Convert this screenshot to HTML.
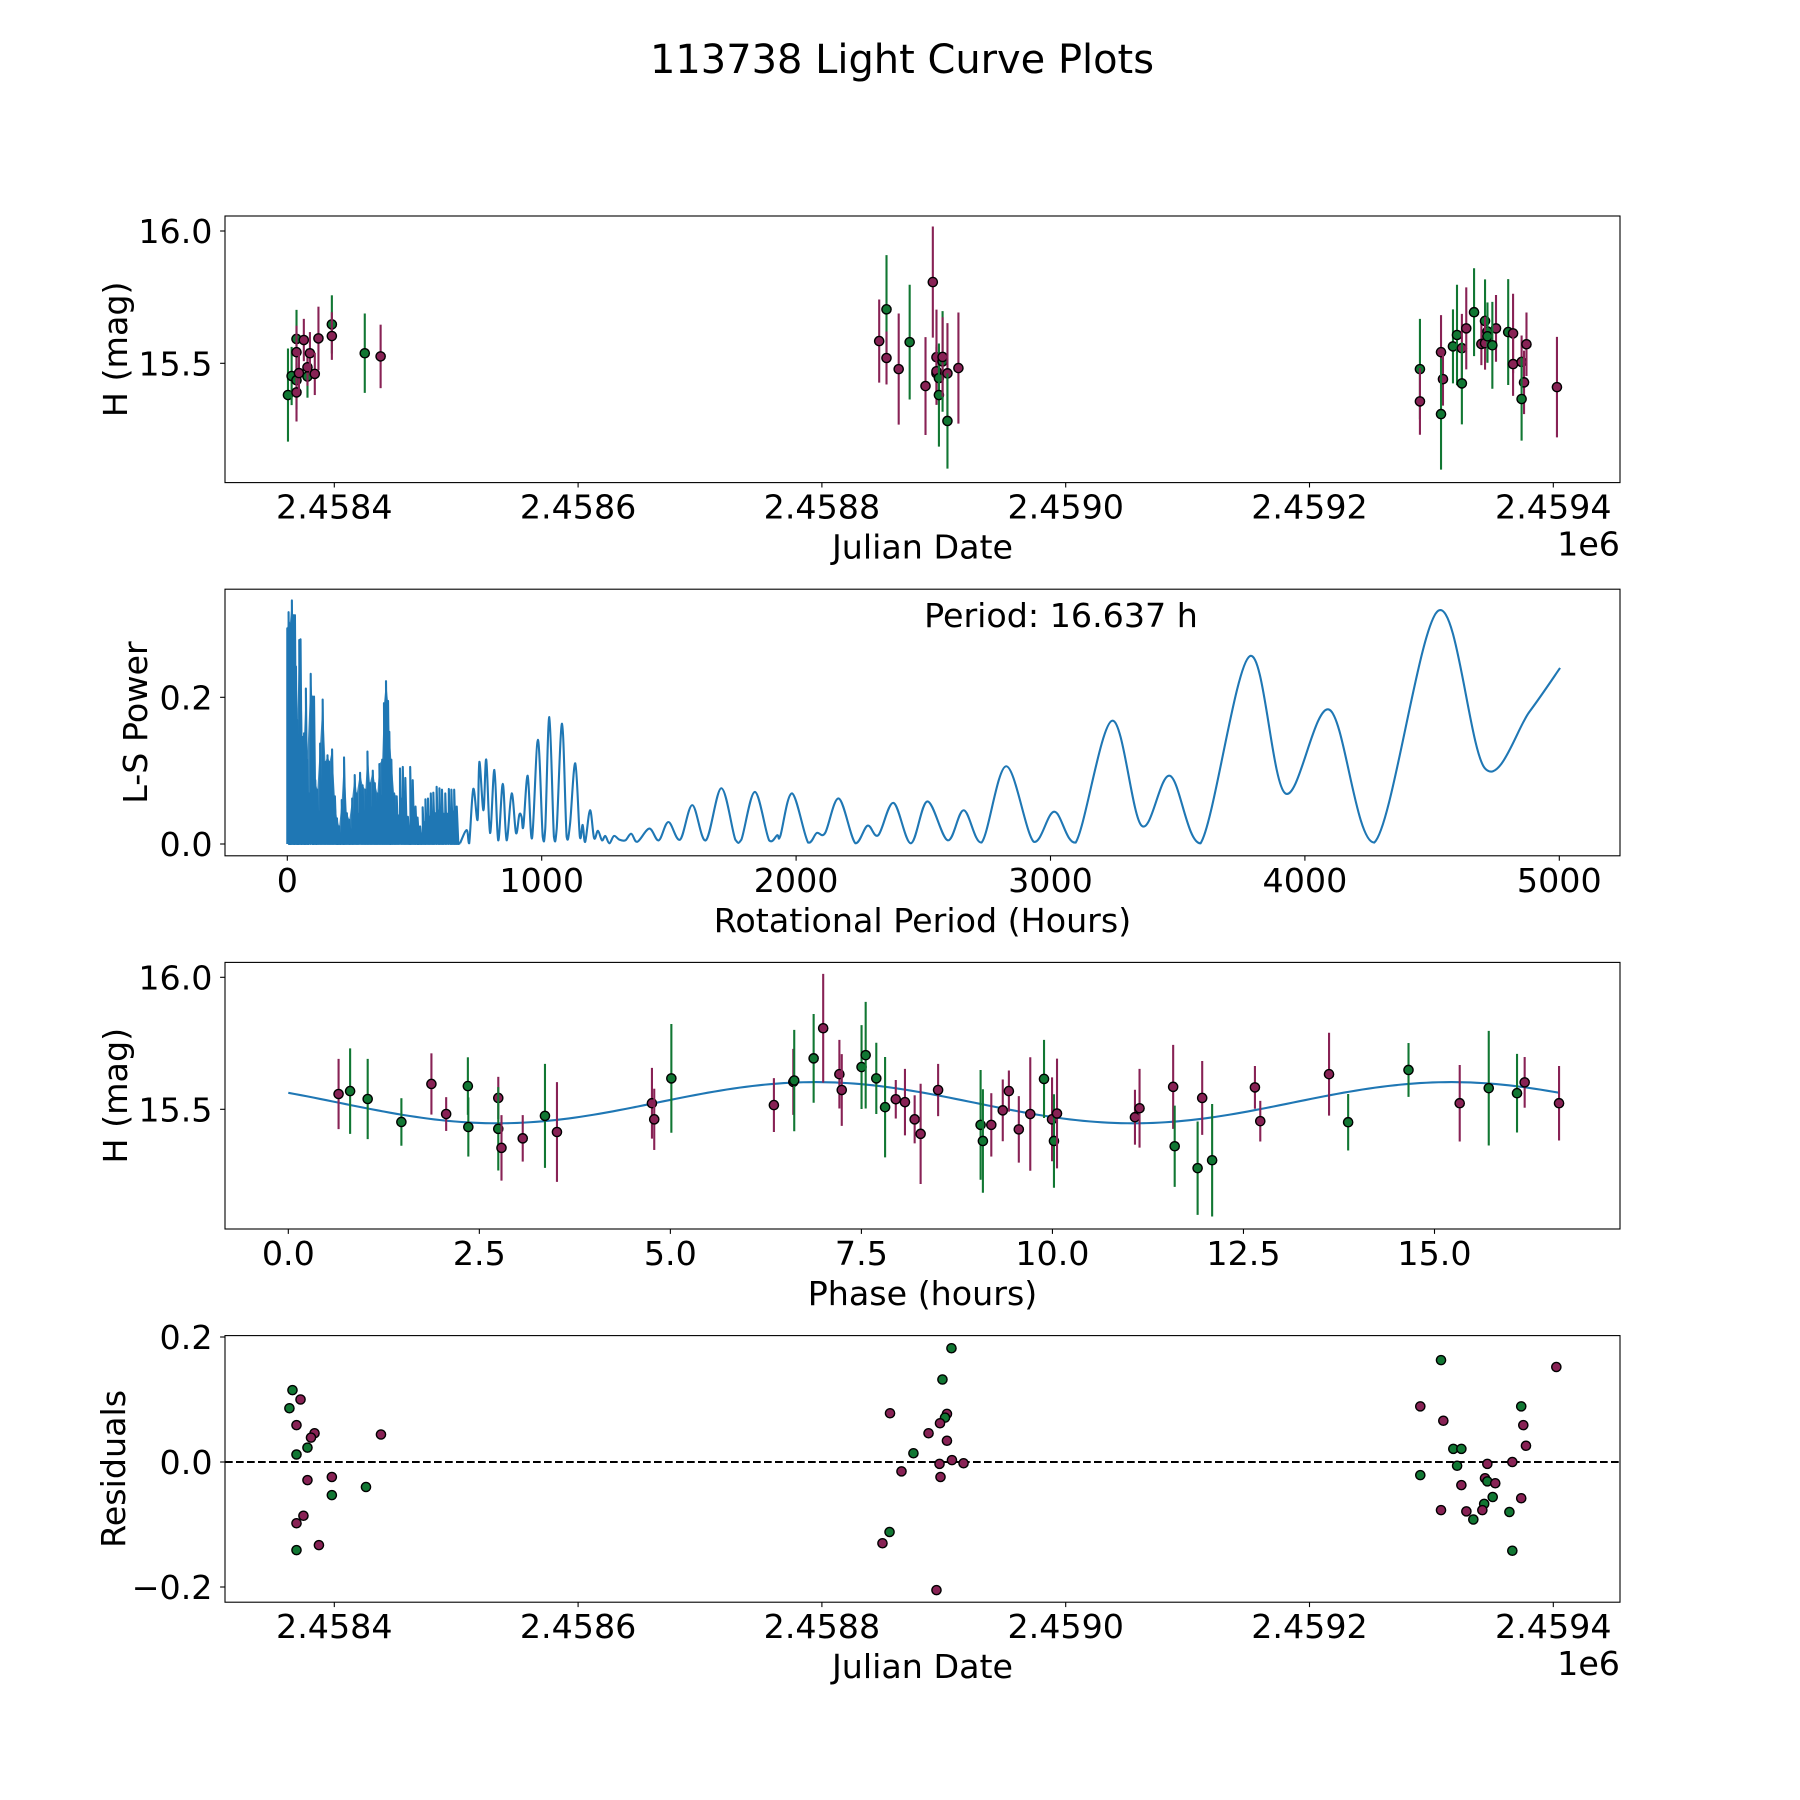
<!DOCTYPE html>
<html><head><meta charset="utf-8"><title>113738 Light Curve Plots</title>
<style>
html,body{margin:0;padding:0;background:#fff;}
svg{display:block;font-family:"DejaVu Sans","Liberation Sans",sans-serif;}
</style></head>
<body>
<svg id="fig" width="1800" height="1800" viewBox="0 0 1800 1800" xmlns="http://www.w3.org/2000/svg">
<rect x="0" y="0" width="1800" height="1800" fill="#fff"/>
<text x="902" y="73" font-size="40" text-anchor="middle" textLength="504" lengthAdjust="spacingAndGlyphs">113738 Light Curve Plots</text>
</svg>
<script>
// ---------- Panel 1: raw light curve ----------
const lcColor = ['g','g','g','m','g','m','m','m','g','m','m','m','m','g','m','g','m',
 'm','g','m','m','g','m','m','m','m','m','g','g','g','m','m','g','m',
 'g','m','m','m','g','g','g','m','g','m','g','m','g','g','m','g','m','g','g','m','m','m','m','m'];
const lcJD = [2458362,2458365,2458369,2458369,2458369,2458369,2458371,2458375,2458378,2458378,2458380,2458384,2458387,2458398,2458398,2458425,2458438,
 2458847,2458853,2458853,2458863,2458872,2458885,2458891,2458894,2458894,2458894,2458896,2458896,2458899,2458899,2458903,2458903,2458912,
 2459290.6,2459290.6,2459307.9,2459309.5,2459307.9,2459317.7,2459321,2459325,2459325,2459328.6,2459335,2459341,2459344,2459346,2459344,2459346,2459353,2459350,2459363,2459367,2459367,2459374,2459376,2459378];
const lcMag = [15.38,15.452,15.436,15.39,15.592,15.542,15.463,15.588,15.45,15.485,15.538,15.46,15.594,15.647,15.603,15.538,15.526,
 15.584,15.704,15.52,15.478,15.58,15.414,15.807,15.523,15.462,15.47,15.444,15.38,15.507,15.524,15.462,15.282,15.482,
 15.478,15.356,15.542,15.44,15.308,15.564,15.607,15.557,15.424,15.632,15.693,15.573,15.66,15.62,15.576,15.602,15.632,15.568,15.618,15.613,15.497,15.505,15.428,15.572];
const lcErr = [0.176,0.11,0.11,0.11,0.11,0.1,0.08,0.08,0.08,0.07,0.08,0.08,0.12,0.11,0.09,0.15,0.12,
 0.157,0.205,0.1,0.21,0.217,0.185,0.21,0.18,0.1,0.1,0.1,0.195,0.19,0.15,0.19,0.18,0.21,
 0.19,0.126,0.14,0.1,0.21,0.14,0.19,0.13,0.155,0.155,0.166,0.08,0.157,0.11,0.1,0.1,0.126,0.164,0.2,0.15,0.12,0.1,0.12,0.12];
const lcJD2 = [2459374,2459403];
const lcMag2 = [15.365,15.41];
const lcErr2 = [0.157,0.19];
const lcColor2 = ['g','m'];
const jdTicks = [2458400,2458600,2458800,2459000,2459200,2459400];
const jdTickLabels = ['2.4584','2.4586','2.4588','2.4590','2.4592','2.4594'];
const magTicks = [15.5,16.0];
const magTickLabels = ['15.5','16.0'];

// ---------- Panel 2: periodogram ----------
const lsDensePeriod = [0,5,10,18,23,30,34,39,47,52,60,66,73,78,92,98,105,110,118,129,139,150,158,166,176,187,195,204,214,223,234,244,255,265,273,286,296,307,315,325,336,344,354,362,373,380,388,396,401,409,420,430,443,454,464,474,483,493,504,512,522,532,543,553,564,574,587,598,608,621,635,645,656,666];
const lsDensePower = [0.294,0.316,0.301,0.332,0.312,0.312,0.242,0.169,0.278,0.279,0.146,0.151,0.212,0.115,0.232,0.201,0.201,0.087,0.074,0.137,0.197,0.112,0.121,0.112,0.129,0.065,0.035,0.024,0.060,0.118,0.042,0.033,0.062,0.094,0.069,0.097,0.080,0.074,0.126,0.083,0.100,0.083,0.069,0.109,0.115,0.192,0.222,0.195,0.153,0.115,0.069,0.065,0.103,0.105,0.090,0.037,0.105,0.087,0.051,0.036,0.024,0.050,0.061,0.062,0.069,0.070,0.078,0.076,0.074,0.069,0.075,0.074,0.074,0.051];
const lsPeriod = [679,705,715,731,748,755,771,782,797,814,829,847,862,882,899,912,921,928,945,962,985,1004,1014,1030,1048,1059,1080,1098,1111,1132,1150,1161,1171,1190,1206,1221,1237,1250,1266,1284,1305,1329,1352,1376,1423,1460,1498,1544,1592,1645,1706,1761,1785,1838,1894,1926,1938,1984,2047,2081,2114,2168,2233,2281,2323,2383,2451,2516,2596,2659,2729,2826,2934,3015,3099,3242,3358,3469,3590,3783,3923,4097,4273,4524,4708,4882,5003];
const lsPower = [0.001,0.019,0.001,0.075,0.033,0.112,0.046,0.115,0.015,0.101,0.005,0.082,0.005,0.069,0.015,0.040,0.037,0.024,0.093,0.008,0.142,0.010,0.021,0.173,0.010,0.021,0.164,0.010,0.026,0.110,0.010,0.026,0.003,0.046,0.008,0.018,0.005,0.011,0.001,0.011,0.006,0.005,0.014,0.003,0.021,0.005,0.030,0.006,0.053,0.005,0.076,0.006,0.006,0.071,0.005,0.012,0.011,0.069,0.002,0.015,0.015,0.062,0.001,0.025,0.012,0.056,0.001,0.058,0.005,0.046,0.002,0.106,0.003,0.044,0.002,0.168,0.025,0.093,0.001,0.256,0.069,0.183,0.002,0.318,0.103,0.180,0.240];
const perTicks = [0,1000,2000,3000,4000,5000];
const powTicks = [0.0,0.2];
const powTickLabels = ['0.0','0.2'];

// ---------- Panel 3: phase-folded ----------
const phPhase = [0.658,0.809,1.039,1.48,1.873,2.066,2.35,2.356,2.748,2.748,2.79,3.068,3.359,3.516,4.759,4.789,5.013,6.355,6.609,6.621,6.875,7.0,7.212,7.243,7.502,7.556,7.695,7.81,7.95,8.07,8.197,8.275,
 9.06,9.09,8.504,9.2,9.35,9.43,9.56,9.71,9.89,9.995,10.02,10.06,11.08,11.14,11.58,11.6,11.9,11.96,12.09,12.65,12.72,13.62,13.87,14.66,15.33,15.71,16.08,16.18,16.63];
const phMag = [15.558,15.569,15.539,15.452,15.596,15.482,15.588,15.433,15.543,15.426,15.354,15.39,15.475,15.414,15.523,15.462,15.617,15.516,15.604,15.609,15.693,15.807,15.633,15.573,15.66,15.705,15.617,15.508,15.538,15.527,15.462,15.407,
 15.441,15.38,15.573,15.441,15.496,15.569,15.424,15.482,15.615,15.462,15.38,15.484,15.47,15.504,15.585,15.36,15.277,15.543,15.307,15.583,15.455,15.633,15.451,15.649,15.523,15.58,15.561,15.602,15.523];
const phErr = [0.133,0.162,0.152,0.09,0.116,0.064,0.109,0.112,0.08,0.158,0.124,0.088,0.197,0.189,0.134,0.116,0.206,0.102,0.125,0.192,0.168,0.206,0.13,0.136,0.159,0.202,0.135,0.19,0.073,0.126,0.091,0.19,
 0.208,0.196,0.099,0.12,0.117,0.078,0.126,0.215,0.148,0.159,0.177,0.208,0.104,0.149,0.159,0.154,0.177,0.14,0.213,0.081,0.077,0.157,0.107,0.102,0.145,0.217,0.149,0.096,0.141];
const phColor = ['m','g','g','g','m','m','g','g','m','g','m','m','g','m','m','m','g','m','m','g','g','m','m','m','g','g','g','g','m','m','m','m',
 'g','g','m','m','m','m','m','m','g','m','g','m','m','m','m','g','g','m','g','m','m','m','g','g','m','g','g','m','m'];
const fitPeriod = 16.637, fitMean = 15.525, fitAmp = 0.078, fitPeakPhase = 6.9;
const phTicks = [0,2.5,5,7.5,10,12.5,15];
const phTickLabels = ['0.0','2.5','5.0','7.5','10.0','12.5','15.0'];

// ---------- Panel 4: residuals ----------
const resColor = ['g','m','g','m','m','m','g','g','m','m','g','g','m','m','m','m','g',
 'm','g','g','m','g','m','m','m','g','m','m','m','m','m','g','m','m',
 'g','m','m','g','m','m','m','g','g','g','m','m','g','m','g','m','m','g','m','g','m','m','m','g','g','g'];
const resJD = [2458365.7,2458372.3,2458363.2,2458369,2458383.8,2458380.9,2458378,2458369,2458378,2458398,2458398,2458426,2458438.3,2458374.7,2458369,2458387.4,2458369,
 2458855.9,2458906.3,2458898.9,2458902.6,2458901,2458896.9,2458887.5,2458902.6,2458875.1,2458896.5,2458906.7,2458916.2,2458865.3,2458897.3,2458855.5,2458849.7,2458894,
 2459307.9,2459402.5,2459290.9,2459373.7,2459309.8,2459375.4,2459377.6,2459318,2459324.6,2459321.1,2459345.9,2459366.4,2459290.9,2459344,2459345.9,2459352.4,2459324.6,2459350.3,2459373.7,2459343.3,2459307.9,2459328.7,2459341.8,2459364,2459334.4,2459366.4];
const resVal = [0.115,0.100,0.086,0.059,0.046,0.039,0.023,0.012,-0.029,-0.024,-0.053,-0.040,0.044,-0.086,-0.098,-0.133,-0.141,
 0.078,0.182,0.132,0.077,0.071,0.062,0.046,0.034,0.014,-0.003,0.003,-0.002,-0.015,-0.024,-0.112,-0.130,-0.205,
 0.163,0.152,0.089,0.089,0.066,0.059,0.026,0.021,0.021,-0.006,-0.003,0.000,-0.021,-0.026,-0.031,-0.034,-0.037,-0.056,-0.058,-0.067,-0.077,-0.079,-0.077,-0.080,-0.092,-0.142];
const resTicks = [-0.2,0.0,0.2];
const resTickLabels = ['\u22120.2','0.0','0.2'];

// ---------- rendering ----------
const NS = 'http://www.w3.org/2000/svg';
const fig = document.getElementById('fig');
const GREEN = '#117733', WINE = '#882255', BLUE = '#1f77b4';
const FS = 33.3;
function mk(tag, attrs, parent) {
  const e = document.createElementNS(NS, tag);
  for (const k in attrs) e.setAttribute(k, attrs[k]);
  (parent || fig).appendChild(e);
  return e;
}
function scale(d0, d1, r0, r1) { return v => r0 + (v - d0) * (r1 - r0) / (d1 - d0); }

const L = 225, R = 1620;
const panels = [
  {top: 216, bot: 482.6},
  {top: 589.2, bot: 855.8},
  {top: 962.4, bot: 1229},
  {top: 1335.6, bot: 1602.2}
];

function frame(p, name) {
  const g = mk('g', {});
  
  
  return g;
}
function spines(g, p) {
  const r = mk('rect', {x: L, y: p.top, width: R - L, height: p.bot - p.top, fill: 'none', stroke: '#000', 'stroke-width': 1.1}, g);
  
  
}
function xTicks(g, p, ticks, labels, sx) {
  ticks.forEach((t, i) => {
    const x = sx(t);
    mk('line', {x1: x, x2: x, y1: p.bot, y2: p.bot + 4.9, stroke: '#000', 'stroke-width': 1.1}, g);
    const tx = mk('text', {x: x, y: p.bot + 36, 'font-size': FS, 'text-anchor': 'middle'}, g);
    tx.textContent = labels[i];
    
    
  });
}
function yTicks(g, p, ticks, labels, sy) {
  ticks.forEach((t, i) => {
    const y = sy(t);
    mk('line', {x1: L - 4.9, x2: L, y1: y, y2: y, stroke: '#000', 'stroke-width': 1.1}, g);
    const tx = mk('text', {x: L - 12.5, y: y + 12, 'font-size': FS, 'text-anchor': 'end'}, g);
    tx.textContent = labels[i];
    
    
  });
}
function xLabel(g, p, txt, name) {
  const t = mk('text', {x: (L + R) / 2, y: p.bot + 76, 'font-size': FS, 'text-anchor': 'middle'}, g);
  t.textContent = txt;
  
  
}
function yLabel(g, p, txt, bx, name) {
  const cy = (p.top + p.bot) / 2;
  const t = mk('text', {x: bx, y: cy, 'font-size': FS, 'text-anchor': 'middle', transform: 'rotate(-90 ' + bx + ' ' + cy + ')'}, g);
  t.textContent = txt;
  
  
}
function offsetLabel(g, p) {
  const t = mk('text', {x: R, y: p.bot + 73, 'font-size': FS, 'text-anchor': 'end'}, g);
  t.textContent = '1e6';
  
  
}
function errPoint(g, x, y, y1, y2, c) {
  const col = c === 'g' ? GREEN : WINE;
  const ln = mk('line', {x1: x, x2: x, y1: y1, y2: y2, stroke: col, 'stroke-width': 2.1}, g);
  
  
  const ci = mk('circle', {cx: x, cy: y, r: 4.6, fill: col, stroke: '#000', 'stroke-width': 1.4}, g);
  
  
}

// Panel 1
(function () {
  const p = panels[0];
  const g = frame(p, 'raw-light-curve-panel');
  const sx = scale(2458400, 2459400, 334.3, 1553.3);
  const sy = scale(15.5, 16.0, 363.3, 231);
  const pts = mk('g', {}, g);
  
  
  const J = lcJD.concat(lcJD2), M = lcMag.concat(lcMag2), E = lcErr.concat(lcErr2), C = lcColor.concat(lcColor2);
  for (let i = 0; i < J.length; i++) {
    errPoint(pts, sx(J[i]), sy(M[i]), sy(M[i] + E[i]), sy(M[i] - E[i]), C[i]);
  }
  spines(g, p);
  xTicks(g, p, jdTicks, jdTickLabels, sx);
  yTicks(g, p, magTicks, magTickLabels, sy);
  xLabel(g, p, 'Julian Date', 'x-axis-title');
  offsetLabel(g, p);
  yLabel(g, p, 'H (mag)', 127, 'y-axis-title');
})();

// Panel 2
(function () {
  const p = panels[1];
  const g = frame(p, 'periodogram-panel');
  const sx = scale(0, 1000, 287.3, 541.7);
  const sy = scale(0, 0.2, 844, 697.3);
  let env = 'M' + sx(lsDensePeriod[0]) + ',' + sy(0);
  const n = Math.min(lsDensePeriod.length, lsDensePower.length);
  for (let i = 0; i < n; i++) {
    if (lsDensePeriod[i] > 440) break;
    env += ' L' + sx(lsDensePeriod[i]) + ',' + sy(lsDensePower[i]);
  }
  env += ' L' + sx(440) + ',' + sy(0) + ' Z';
  const fillEl = mk('path', {d: env, fill: BLUE, opacity: 0.85}, g);
  
  
  let sp = 'M' + sx(lsDensePeriod[0]) + ',' + sy(0);
  for (let i = 0; i < n; i++) {
    const x = sx(lsDensePeriod[i]);
    sp += ' L' + x + ',' + sy(lsDensePower[i]) + ' L' + (x + 1.6) + ',' + sy(0);
    if (i + 1 < n) {
      const xm = (x + sx(lsDensePeriod[i + 1])) / 2;
      const hm = Math.min(lsDensePower[i], lsDensePower[i + 1]) * 0.6;
      sp += ' L' + xm + ',' + sy(hm) + ' L' + (xm + 1.6) + ',' + sy(0);
    }
  }
  sp += ' L' + sx(lsPeriod[0]) + ',' + sy(lsPower[0]);
  const spikes = mk('path', {d: sp, fill: 'none', stroke: BLUE, 'stroke-width': 2.1, 'stroke-linejoin': 'round'}, g);
  
  
  const P = lsPeriod.map(v => [sx(v), sy(0)]);
  for (let i = 0; i < lsPeriod.length; i++) P[i][1] = sy(lsPower[i]);
  let d = 'M' + P[0][0] + ',' + P[0][1];
  for (let i = 0; i < P.length - 1; i++) {
    const p0 = P[Math.max(0, i - 1)], p1 = P[i], p2 = P[i + 1], p3 = P[Math.min(P.length - 1, i + 2)];
    let c1x = p1[0] + (p2[0] - p0[0]) / 6, c1y = p1[1] + (p2[1] - p0[1]) / 6;
    let c2x = p2[0] - (p3[0] - p1[0]) / 6, c2y = p2[1] - (p3[1] - p1[1]) / 6;
    const base = sy(0);
    c1y = Math.min(c1y, base); c2y = Math.min(c2y, base);
    d += ' C' + c1x + ',' + c1y + ' ' + c2x + ',' + c2y + ' ' + p2[0] + ',' + p2[1];
  }
  const curve = mk('path', {d: d, fill: 'none', stroke: BLUE, 'stroke-width': 2.1}, g);
  
  
  spines(g, p);
  xTicks(g, p, perTicks, perTicks.map(String), sx);
  yTicks(g, p, powTicks, powTickLabels, sy);
  xLabel(g, p, 'Rotational Period (Hours)', 'x-axis-title');
  yLabel(g, p, 'L-S Power', 147, 'y-axis-title');
  const ann = mk('text', {x: 1061, y: 627, 'font-size': FS, 'text-anchor': 'middle'}, g);
  ann.textContent = 'Period: 16.637 h';
  
  
})();

// Panel 3
(function () {
  const p = panels[2];
  const g = frame(p, 'phase-folded-panel');
  const sx = scale(0, 15, 288.3, 1434.5);
  const sy = scale(15.5, 16.0, 1109.3, 977.3);
  let d = '';
  for (let k = 0; k <= 200; k++) {
    const t = fitPeriod * k / 200;
    const v = fitMean + fitAmp * Math.cos(4 * Math.PI * (t - fitPeakPhase) / fitPeriod);
    d += (k ? ' L' : 'M') + sx(t) + ',' + sy(v);
  }
  const fit = mk('path', {d: d, fill: 'none', stroke: BLUE, 'stroke-width': 2.1}, g);
  
  
  const pts = mk('g', {}, g);
  
  
  const n = Math.min(phPhase.length, phMag.length, phErr.length);
  for (let i = 0; i < n; i++) {
    const c = phColor[i] || 'm';
    errPoint(pts, sx(phPhase[i]), sy(phMag[i]), sy(phMag[i] + phErr[i]), sy(phMag[i] - phErr[i]), c);
  }
  spines(g, p);
  xTicks(g, p, phTicks, phTickLabels, sx);
  yTicks(g, p, magTicks, magTickLabels, sy);
  xLabel(g, p, 'Phase (hours)', 'x-axis-title');
  yLabel(g, p, 'H (mag)', 127, 'y-axis-title');
})();

// Panel 4
(function () {
  const p = panels[3];
  const g = frame(p, 'residuals-panel');
  const sx = scale(2458400, 2459400, 334.3, 1553.3);
  const sy = scale(0, 0.2, 1462, 1337);
  const zl = mk('line', {x1: L, x2: R, y1: sy(0), y2: sy(0), stroke: '#000', 'stroke-width': 2.1, 'stroke-dasharray': '7.7,3.3'}, g);
  
  
  const pts = mk('g', {}, g);
  
  
  const n = Math.min(resJD.length, resVal.length);
  for (let i = 0; i < n; i++) {
    const c = resColor[i] === 'g' ? GREEN : WINE;
    const ci = mk('circle', {cx: sx(resJD[i]), cy: sy(resVal[i]), r: 4.6, fill: c, stroke: '#000', 'stroke-width': 1.4}, pts);
    
    
  }
  spines(g, p);
  xTicks(g, p, jdTicks, jdTickLabels, sx);
  yTicks(g, p, resTicks, resTickLabels, sy);
  xLabel(g, p, 'Julian Date', 'x-axis-title');
  offsetLabel(g, p);
  yLabel(g, p, 'Residuals', 125, 'y-axis-title');
})();
</script>
</body></html>
